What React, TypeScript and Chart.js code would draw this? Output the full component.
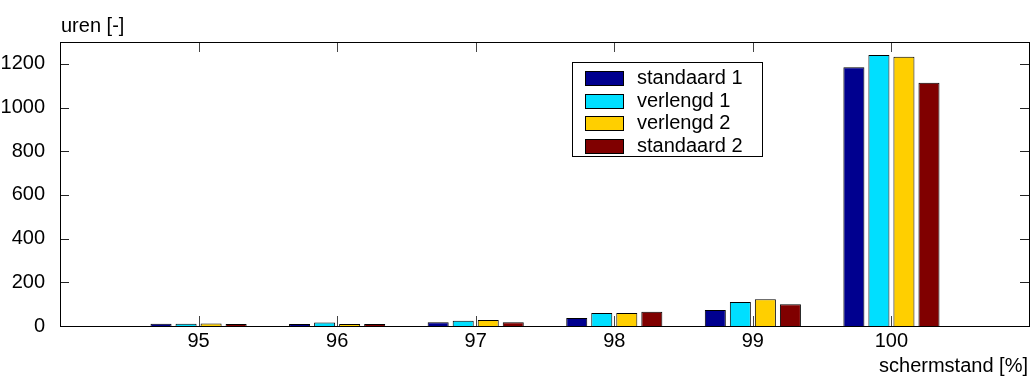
import React, { useEffect, useRef } from "react";
import { Chart, registerables } from "chart.js";

Chart.register(...registerables);

// schermstand categories (%)
const categories = [95, 96, 97, 98, 99, 100];

// hours per schermstand, per scenario
const standaard1 = [10, 9, 17, 37, 73, 1184];
const verlengd1 = [10, 16, 24, 60, 110, 1240];
const verlengd2 = [11, 9, 28, 60, 122, 1233];
const standaard2 = [9, 9, 17, 65, 100, 1113];

const seriesLabels = ["standaard 1", "verlengd 1", "verlengd 2", "standaard 2"];
const seriesColors = ["#00008f", "#00dfff", "#ffcf00", "#800000"];

const yTicks = [0, 200, 400, 600, 800, 1000, 1200];

const FONT = '"Liberation Sans", Arial, sans-serif';
const FONT_SIZE = 20;

const framePlugin = {
  id: "matlabFrame",
  beforeDatasetsDraw(chart: any) {
    const { ctx, chartArea: a, scales } = chart;
    ctx.save();
    ctx.lineWidth = 1;
    ctx.strokeStyle = "#444";
    // inward tick marks on all four sides
    for (const v of categories) {
      const x = Math.round(scales.x.getPixelForValue(v)) + 0.5;
      ctx.beginPath();
      ctx.moveTo(x, a.bottom);
      ctx.lineTo(x, a.bottom - 10);
      ctx.moveTo(x, a.top);
      ctx.lineTo(x, a.top + 10);
      ctx.stroke();
    }
    ctx.strokeStyle = "#222";
    for (const v of yTicks) {
      const y = Math.round(scales.y.getPixelForValue(v)) + 0.5;
      ctx.beginPath();
      ctx.moveTo(a.left, y);
      ctx.lineTo(a.left + 9, y);
      ctx.moveTo(a.right, y);
      ctx.lineTo(a.right - 10, y);
      ctx.stroke();
    }
    ctx.restore();
  },
  afterDraw(chart: any) {
    const { ctx, chartArea: a } = chart;
    ctx.save();
    // axes box
    ctx.strokeStyle = "#000";
    ctx.lineWidth = 1;
    ctx.strokeRect(a.left + 0.5, a.top + 0.5, a.right - a.left - 1, a.bottom - a.top);

    // axis titles
    ctx.fillStyle = "#000";
    ctx.font = `${FONT_SIZE}px ${FONT}`;
    ctx.textBaseline = "alphabetic";
    ctx.textAlign = "left";
    ctx.fillText("uren [-]", 61, 32);
    ctx.textAlign = "right";
    ctx.fillText("schermstand [%]", 1028, 372);

    // legend
    const lx = 572, ly = 62, lw = 190, lh = 94;
    ctx.fillStyle = "#fff";
    ctx.fillRect(lx, ly, lw, lh);
    ctx.strokeStyle = "#000";
    ctx.strokeRect(lx + 0.5, ly + 0.5, lw, lh);
    chart.data.datasets.forEach((ds: any, i: number) => {
      const top = 71 + i * 22.6;
      ctx.fillStyle = ds.backgroundColor;
      ctx.fillRect(585, Math.round(top), 38, 14);
      ctx.strokeStyle = "#000";
      ctx.strokeRect(585.5, Math.round(top) + 0.5, 38, 14);
      ctx.fillStyle = "#000";
      ctx.textAlign = "left";
      ctx.textBaseline = "middle";
      ctx.fillText(ds.label, 637, Math.round(top) + 7.5);
    });
    ctx.restore();
  },
};

export default function App() {
  const ref = useRef<HTMLCanvasElement>(null);

  useEffect(() => {
    document.body.style.margin = "0";
    const series = [standaard1, verlengd1, verlengd2, standaard2];
    const chart = new Chart(ref.current!, {
      type: "bar",
      data: {
        datasets: series.map((vals, i) => ({
          label: seriesLabels[i],
          data: categories.map((c, j) => ({ x: c, y: vals[j] })),
          backgroundColor: seriesColors[i],
          borderColor: "#000",
          borderWidth: 1,
          categoryPercentage: 0.7225,
          barPercentage: 0.84,
        })),
      },
      options: {
        animation: false,
        responsive: false,
        maintainAspectRatio: false,
        layout: { padding: { top: 42, right: 1, left: 0, bottom: 0 } },
        plugins: { legend: { display: false }, tooltip: { enabled: false } },
        scales: {
          x: {
            type: "linear",
            min: 94,
            max: 101,
            offset: false,
            grid: { display: false },
            border: { display: false },
            afterBuildTicks: (s: any) => {
              s.ticks = categories.map((v) => ({ value: v }));
            },
            afterFit: (s: any) => {
              s.height = 51;
            },
            ticks: {
              padding: -5,
              color: "#000",
              font: { family: FONT, size: FONT_SIZE },
              maxRotation: 0,
              callback: (v: any) => String(v),
            },
          },
          y: {
            min: 0,
            max: 1300,
            grid: { display: false },
            border: { display: false },
            afterBuildTicks: (s: any) => {
              s.ticks = yTicks.map((v) => ({ value: v }));
            },
            afterFit: (s: any) => {
              s.width = 60;
            },
            ticks: {
              padding: 7,
              color: "#000",
              font: { family: FONT, size: FONT_SIZE },
              callback: (v: any) => String(v),
            },
          },
        },
      },
      plugins: [framePlugin],
    });
    return () => chart.destroy();
  }, []);

  return (
    <div style={{ width: 1031, height: 377, background: "#fff" }}>
      <canvas ref={ref} width={1031} height={377} style={{ display: "block" }} />
    </div>
  );
}
